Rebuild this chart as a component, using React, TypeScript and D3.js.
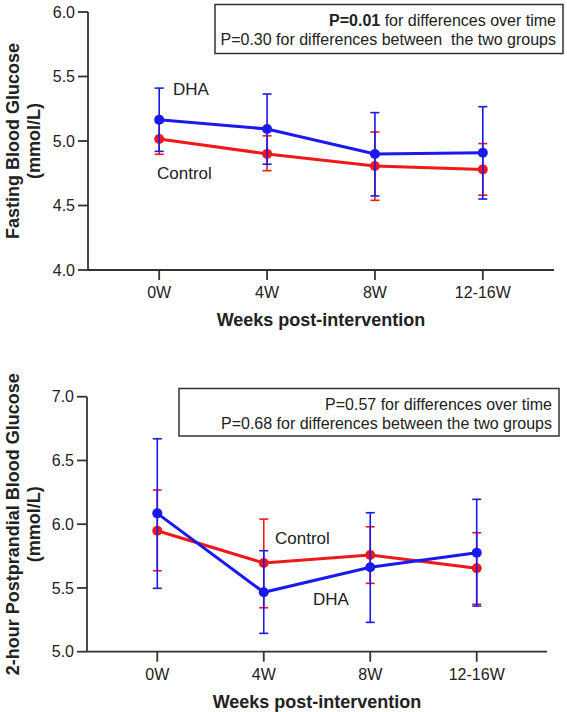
import React from "react";
import * as d3 from "d3";

const weeks = ["0W", "4W", "8W", "12-16W"];

// Panel 1: Fasting Blood Glucose
const fbgDhaMean = [5.165, 5.093, 4.899, 4.909];
const fbgDhaHigh = [5.41, 5.364, 5.22, 5.266];
const fbgDhaLow = [4.92, 4.82, 4.574, 4.55];
const fbgCtrlMean = [5.016, 4.9, 4.806, 4.78];
const fbgCtrlHigh = [5.145, 5.04, 5.07, 4.98];
const fbgCtrlLow = [4.897, 4.77, 4.54, 4.58];
const fbgTicks = [4.0, 4.5, 5.0, 5.5, 6.0];

// Panel 2: 2-hour Postprandial Blood Glucose
const ppgDhaMean = [6.085, 5.466, 5.662, 5.776];
const ppgDhaHigh = [6.67, 5.792, 6.09, 6.195];
const ppgDhaLow = [5.497, 5.144, 5.23, 5.358];
const ppgCtrlMean = [5.949, 5.696, 5.758, 5.654];
const ppgCtrlHigh = [6.268, 6.04, 5.98, 5.933];
const ppgCtrlLow = [5.635, 5.345, 5.536, 5.372];
const ppgTicks = [5.0, 5.5, 6.0, 6.5, 7.0];

const BLUE = "rgb(25,25,240)";
const RED = "rgb(240,25,25)";
const AXIS = "#333";
const FONT = "'Liberation Sans', Arial, sans-serif";

type Series = { mean: number[]; hi: number[]; lo: number[]; color: string };

function Panel(props: {
  x0: number; x1: number; yTop: number; yBot: number;
  domain: [number, number]; ticks: number[];
  series: Series[];
  titleLine1: string;
  box: { x: number; y: number; w: number; h: number };
  legend: React.ReactNode[];
  labels: { text: string; x: number; y: number }[];
}) {
  const { x0, x1, yTop, yBot, domain, ticks, series, box, legend, labels } = props;
  const x = d3.scalePoint<string>().domain(weeks).range([x0, x1]).padding(0.66);
  const y = d3.scaleLinear().domain(domain).range([yBot, yTop]);
  const line = d3.line<number>().x((_, i) => x(weeks[i])!).y((d) => y(d));
  const midY = (yTop + yBot) / 2;
  const midX = (x0 + x1) / 2;
  return (
    <g fontFamily={FONT}>
      {/* legend box */}
      <rect x={box.x} y={box.y} width={box.w} height={box.h} fill="white" stroke={AXIS} strokeWidth={1.5} />
      {legend.map((l, i) => (
        <text key={i} x={box.x + box.w - 7} y={box.y + 21 + i * 19} textAnchor="end" fontSize={16} fill="#222">
          {l}
        </text>
      ))}
      {/* axes */}
      <line x1={x0} x2={x0} y1={yTop} y2={yBot} stroke={AXIS} strokeWidth={1.8} />
      <line x1={x0} x2={x1} y1={yBot} y2={yBot} stroke={AXIS} strokeWidth={1.8} />
      {ticks.map((t) => (
        <g key={t}>
          <line x1={x0 - 10} x2={x0} y1={y(t)} y2={y(t)} stroke={AXIS} strokeWidth={1.8} />
          <text x={x0 - 13} y={y(t)} dy="0.36em" textAnchor="end" fontSize={16} fill="#222">
            {t.toFixed(1)}
          </text>
        </g>
      ))}
      {weeks.map((w) => (
        <g key={w}>
          <line x1={x(w)} x2={x(w)} y1={yBot} y2={yBot + 10} stroke={AXIS} strokeWidth={1.8} />
          <text x={x(w)} y={yBot + 28} textAnchor="middle" fontSize={16} fill="#222">
            {w}
          </text>
        </g>
      ))}
      <text x={midX} y={yBot + 56} textAnchor="middle" fontSize={18} fontWeight="bold" fill="#222">
        Weeks post-intervention
      </text>
      <text transform={`translate(19,${midY}) rotate(-90)`} textAnchor="middle" fontSize={18} fontWeight="bold" fill="#222">
        {props.titleLine1}
      </text>
      <text transform={`translate(40,${midY}) rotate(-90)`} textAnchor="middle" fontSize={18} fontWeight="bold" fill="#222">
        (mmol/L)
      </text>
      {/* series */}
      {series.map((s, si) => (
        <g key={si}>
          {s.mean.map((_, i) => {
            const cx = x(weeks[i])!;
            return (
              <g key={i} stroke={s.color} strokeWidth={1.6}>
                <line x1={cx} x2={cx} y1={y(s.hi[i])} y2={y(s.lo[i])} />
                <line x1={cx - 4.5} x2={cx + 4.5} y1={y(s.hi[i])} y2={y(s.hi[i])} />
                <line x1={cx - 4.5} x2={cx + 4.5} y1={y(s.lo[i])} y2={y(s.lo[i])} />
              </g>
            );
          })}
          <path d={line(s.mean)!} fill="none" stroke={s.color} strokeWidth={3} />
          {s.mean.map((m, i) => (
            <circle key={i} cx={x(weeks[i])} cy={y(m)} r={5} fill={s.color} />
          ))}
        </g>
      ))}
      {labels.map((l) => (
        <text key={l.text} x={l.x} y={l.y} fontSize={17} fill="#222">
          {l.text}
        </text>
      ))}
    </g>
  );
}

export default function App() {
  return (
    <svg width={567} height={712} style={{ position: "absolute", left: 0, top: 0, background: "white" }}>
      <Panel
        x0={88} x1={554} yTop={12} yBot={270}
        domain={[4, 6]} ticks={fbgTicks}
        series={[
          { mean: fbgCtrlMean, hi: fbgCtrlHigh, lo: fbgCtrlLow, color: RED },
          { mean: fbgDhaMean, hi: fbgDhaHigh, lo: fbgDhaLow, color: BLUE },
        ]}
        titleLine1="Fasting Blood Glucose"
        box={{ x: 215, y: 4.5, w: 348, h: 49 }}
        legend={[
          <>
            <tspan fontWeight="bold">P=0.01</tspan> for differences over time
          </>,
          <>P=0.30 for differences between{"\u00a0"} the two groups</>,
        ]}
        labels={[
          { text: "DHA", x: 173, y: 95 },
          { text: "Control", x: 157, y: 179 },
        ]}
      />
      <Panel
        x0={87} x1={547} yTop={396.7} yBot={651.7}
        domain={[5, 7]} ticks={ppgTicks}
        series={[
          { mean: ppgCtrlMean, hi: ppgCtrlHigh, lo: ppgCtrlLow, color: RED },
          { mean: ppgDhaMean, hi: ppgDhaHigh, lo: ppgDhaLow, color: BLUE },
        ]}
        titleLine1="2-hour Postprandial Blood Glucose"
        box={{ x: 179, y: 388.5, w: 380, h: 47.5 }}
        legend={[
          <>P=0.57 for differences over time</>,
          <>P=0.68 for differences between the two groups</>,
        ]}
        labels={[
          { text: "Control", x: 275, y: 544 },
          { text: "DHA", x: 313, y: 605 },
        ]}
      />
    </svg>
  );
}
